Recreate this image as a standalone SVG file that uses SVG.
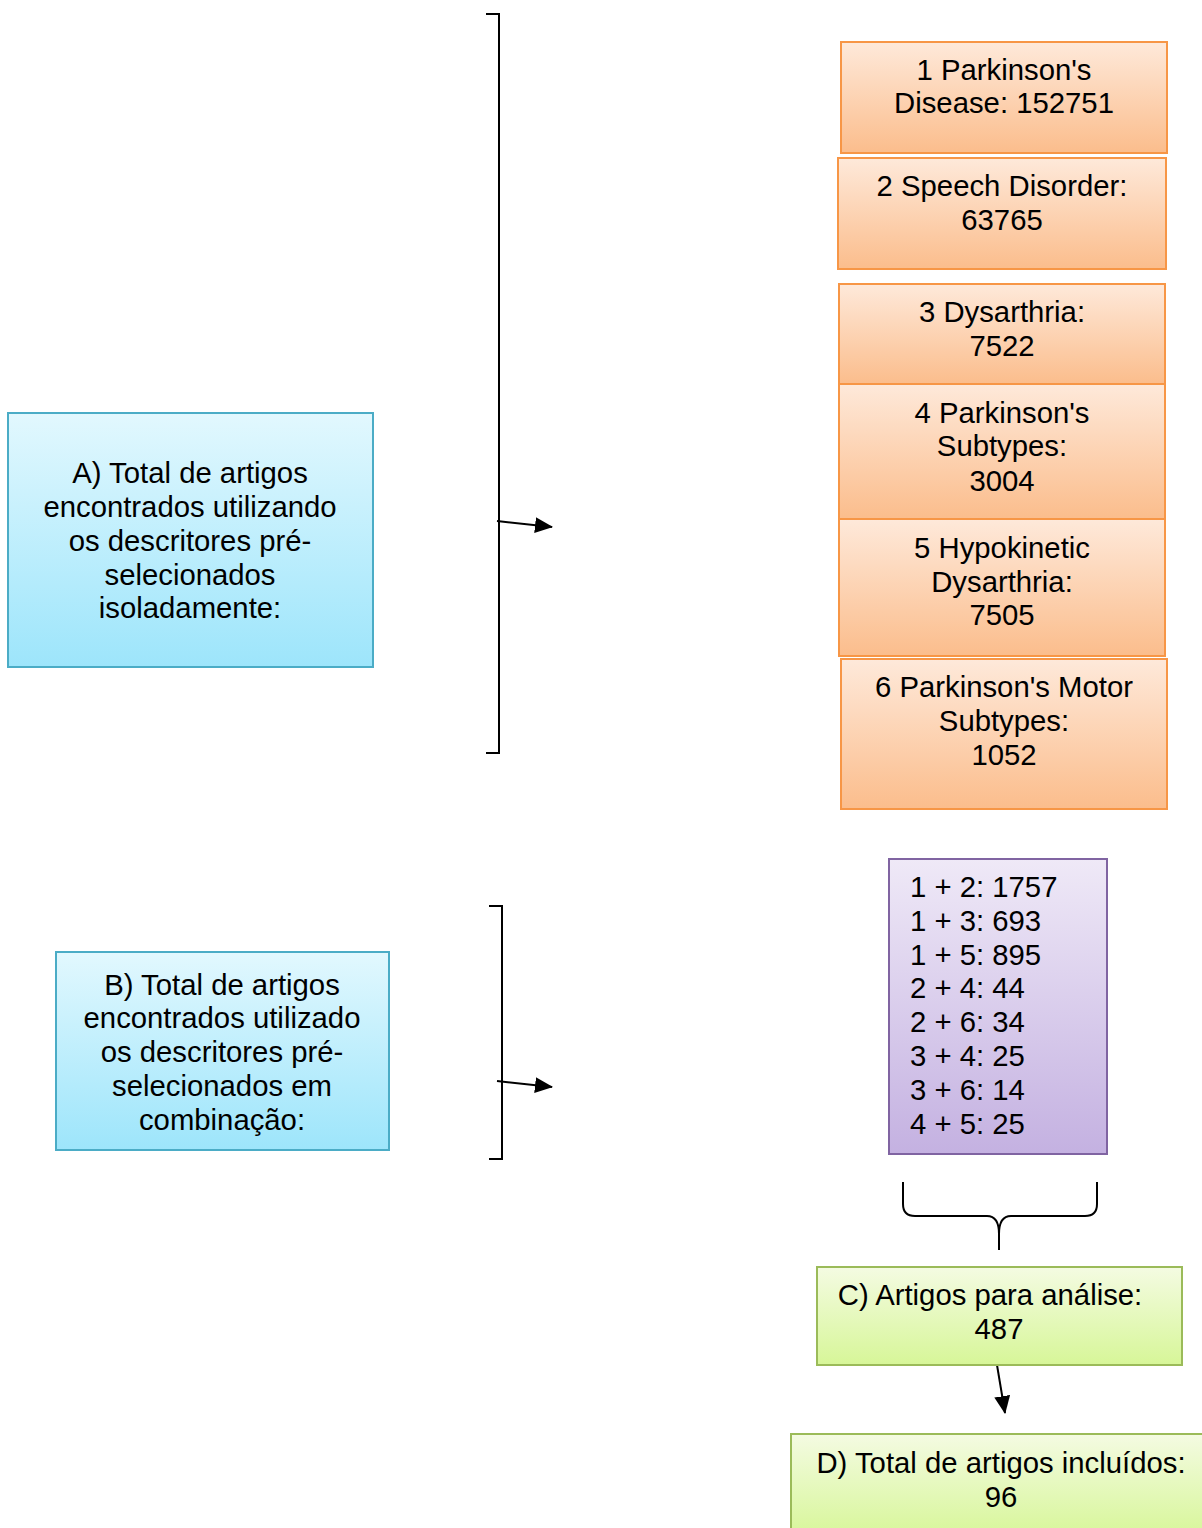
<svg xmlns="http://www.w3.org/2000/svg" width="1202" height="1528" viewBox="0 0 1202 1528">
<style>
text{font-family:"Liberation Sans",Arial,sans-serif;font-size:29.3px;fill:#000;}
.c{text-anchor:middle;}
.blue{fill:url(#gBlue);stroke:#4bacc6;stroke-width:2;}
.orange{fill:url(#gOrange);stroke:#f79646;stroke-width:2;}
.purple{fill:url(#gPurple);stroke:#8064a2;stroke-width:2;}
.green{fill:url(#gGreen);stroke:#9bbb59;stroke-width:2;}
.ln{fill:none;stroke:#000;stroke-width:2;}
</style>
<defs>
<linearGradient id="gBlue" x1="0" y1="0" x2="0" y2="1"><stop offset="0" stop-color="#e2f8fe"/><stop offset="1" stop-color="#9de5fb"/></linearGradient>
<linearGradient id="gOrange" x1="0" y1="0" x2="0" y2="1"><stop offset="0" stop-color="#fee9da"/><stop offset="1" stop-color="#fbbd8c"/></linearGradient>
<linearGradient id="gPurple" x1="0" y1="0" x2="0" y2="1"><stop offset="0" stop-color="#efe9f7"/><stop offset="1" stop-color="#c4b1e1"/></linearGradient>
<linearGradient id="gGreen" x1="0" y1="0" x2="0" y2="1"><stop offset="0" stop-color="#f4fbe2"/><stop offset="1" stop-color="#d7f698"/></linearGradient>
<marker id="arr" markerWidth="9" markerHeight="8" refX="8.5" refY="4" orient="auto" markerUnits="strokeWidth"><path d="M0,0 L9,4 L0,8 Z" fill="#000"/></marker>
</defs>

<g id="connectors">
<path class="ln" d="M486,14 H499 V753 H486"/>
<line class="ln" x1="497" y1="521" x2="552" y2="527" marker-end="url(#arr)"/>
<path class="ln" d="M489,906 H502 V1159 H489"/>
<line class="ln" x1="497" y1="1081" x2="552" y2="1087" marker-end="url(#arr)"/>
<path class="ln" d="M903,1182 V1204 Q903,1216 915,1216 H987 Q999,1216 999,1234 V1250 M999,1234 Q999,1216 1011,1216 H1085 Q1097,1216 1097,1204 V1182"/>
<line class="ln" x1="997" y1="1365" x2="1005" y2="1413" marker-end="url(#arr)"/>
</g>

<g id="nodeA">
<rect class="blue" x="8" y="413" width="365" height="254"/>
<text class="c" x="190" y="483">A) Total de artigos</text>
<text class="c" x="190" y="517">encontrados utilizando</text>
<text class="c" x="190" y="551">os descritores pré-</text>
<text class="c" x="190" y="585">selecionados</text>
<text class="c" x="190" y="618">isoladamente:</text>
</g>

<g id="nodeB">
<rect class="blue" x="56" y="952" width="333" height="198"/>
<text class="c" x="222" y="995">B) Total de artigos</text>
<text class="c" x="222" y="1028">encontrados utilizado</text>
<text class="c" x="222" y="1062">os descritores pré-</text>
<text class="c" x="222" y="1096">selecionados em</text>
<text class="c" x="222" y="1130">combinação:</text>
</g>

<g id="node1">
<rect class="orange" x="841" y="42" width="326" height="111"/>
<text class="c" x="1004" y="80">1 Parkinson's</text>
<text class="c" x="1004" y="113">Disease: 152751</text>
</g>
<g id="node2">
<rect class="orange" x="838" y="158" width="328" height="111"/>
<text class="c" x="1002" y="196">2 Speech Disorder:</text>
<text class="c" x="1002" y="230">63765</text>
</g>
<g id="node3">
<rect class="orange" x="839" y="284" width="326" height="100"/>
<text class="c" x="1002" y="322">3 Dysarthria:</text>
<text class="c" x="1002" y="356">7522</text>
</g>
<g id="node4">
<rect class="orange" x="839" y="384" width="326" height="135"/>
<text class="c" x="1002" y="423">4 Parkinson's</text>
<text class="c" x="1002" y="456">Subtypes:</text>
<text class="c" x="1002" y="491">3004</text>
</g>
<g id="node5">
<rect class="orange" x="839" y="519" width="326" height="137"/>
<text class="c" x="1002" y="558">5 Hypokinetic</text>
<text class="c" x="1002" y="592">Dysarthria:</text>
<text class="c" x="1002" y="625">7505</text>
</g>
<g id="node6">
<rect class="orange" x="841" y="659" width="326" height="150"/>
<text class="c" x="1004" y="697">6 Parkinson's Motor</text>
<text class="c" x="1004" y="731">Subtypes:</text>
<text class="c" x="1004" y="765">1052</text>
</g>

<g id="nodeComb">
<rect class="purple" x="889" y="859" width="218" height="295"/>
<text x="910" y="897">1 + 2: 1757</text>
<text x="910" y="931">1 + 3: 693</text>
<text x="910" y="965">1 + 5: 895</text>
<text x="910" y="998">2 + 4: 44</text>
<text x="910" y="1032">2 + 6: 34</text>
<text x="910" y="1066">3 + 4: 25</text>
<text x="910" y="1100">3 + 6: 14</text>
<text x="910" y="1134">4 + 5: 25</text>
</g>

<g id="nodeC">
<rect class="green" x="817" y="1267" width="365" height="98"/>
<text class="c" x="990" y="1305">C) Artigos para análise:</text>
<text class="c" x="999" y="1339">487</text>
</g>

<g id="nodeD">
<rect class="green" x="791" y="1434" width="420" height="104"/>
<text class="c" x="1001" y="1473">D) Total de artigos incluídos:</text>
<text class="c" x="1001" y="1507">96</text>
</g>
</svg>
